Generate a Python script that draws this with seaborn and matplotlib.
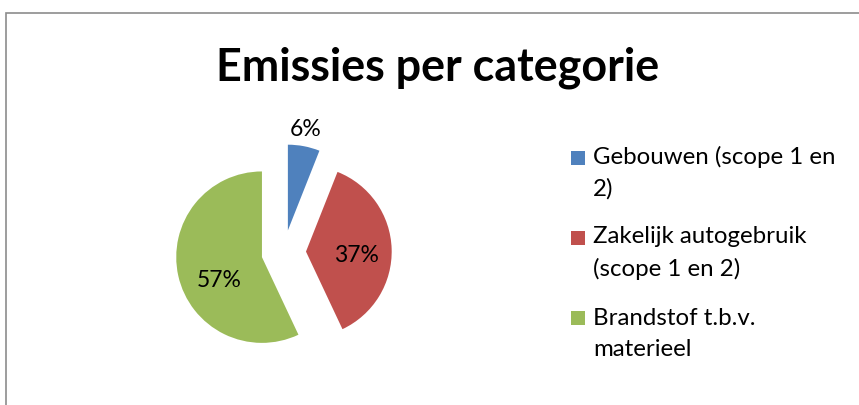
import numpy as np
import matplotlib
matplotlib.use("Agg")
import matplotlib.pyplot as plt
from matplotlib.patches import Rectangle
import seaborn as sns

sns.set_style("white")
plt.rcParams['font.family'] = ['Lato', 'DejaVu Sans']

categories = ["Gebouwen (scope 1 en\n2)", "Zakelijk autogebruik\n(scope 1 en 2)", "Brandstof t.b.v.\nmaterieel"]
values = [6, 37, 57]
colors = ["#4F81BD", "#C0504D", "#9BBB59"]
title = "Emissies per categorie"

# label placement (layout only)
label_dist = [1.21, 0.595, 0.56]
label_shift = [0.8, -4.0, 14.8]

W, H = 859, 405
fig = plt.figure(figsize=(W / 100, H / 100), dpi=100)

# outer chart frame
fig.patches.append(Rectangle((6 / W, -0.1), 1.2, 1 - 13 / H + 0.1, transform=fig.transFigure,
                             fill=False, edgecolor="#8c8c8c", linewidth=1.2))

# pie axes: centre at (283.7, 152.7) px, 1 unit = 85.7 px
cx, cy, size = 283.7, 405 - 252.3, 300
ax = fig.add_axes([(cx - size / 2) / W, (cy - size / 2) / H, size / W, size / H])
wedges, _ = ax.pie(values, colors=colors, startangle=90, counterclock=False,
                   explode=[0.26] * 3, radius=1.0,
                   wedgeprops=dict(linewidth=0))
ax.set_xlim(-1.75, 1.75)
ax.set_ylim(-1.75, 1.75)
ax.set_aspect("equal")
ax.axis("off")

for w, v, d, s in zip(wedges, values, label_dist, label_shift):
    ang = np.deg2rad((w.theta1 + w.theta2) / 2 + s)
    x = w.center[0] + d * np.cos(ang)
    y = w.center[1] + d * np.sin(ang)
    ax.text(x, y - 0.095, f"{v}%", ha="center", va="baseline", fontsize=16.5, color="#000000")

fig.text(438 / W, 1 - 68 / H, title, ha="center", va="center", fontsize=32.3,
         fontweight="bold", color="#000000")

# legend
lx, base0, step, pitch = 593, 165, 80, 31
for i, (w, lab) in enumerate(zip(wedges, categories)):
    b = base0 + i * step
    nlines = lab.count("\n") + 1
    fig.patches.append(Rectangle((571 / W, 1 - b / H), 14 / W, 14 / H,
                                 transform=fig.transFigure, facecolor=w.get_facecolor(),
                                 edgecolor="none"))
    fig.text(lx / W, 1 - (b + pitch * (nlines - 1)) / H, lab, ha="left", va="baseline",
             fontsize=17.3, linespacing=1.6, color="#000000")

fig.savefig("out.png", dpi=100)
